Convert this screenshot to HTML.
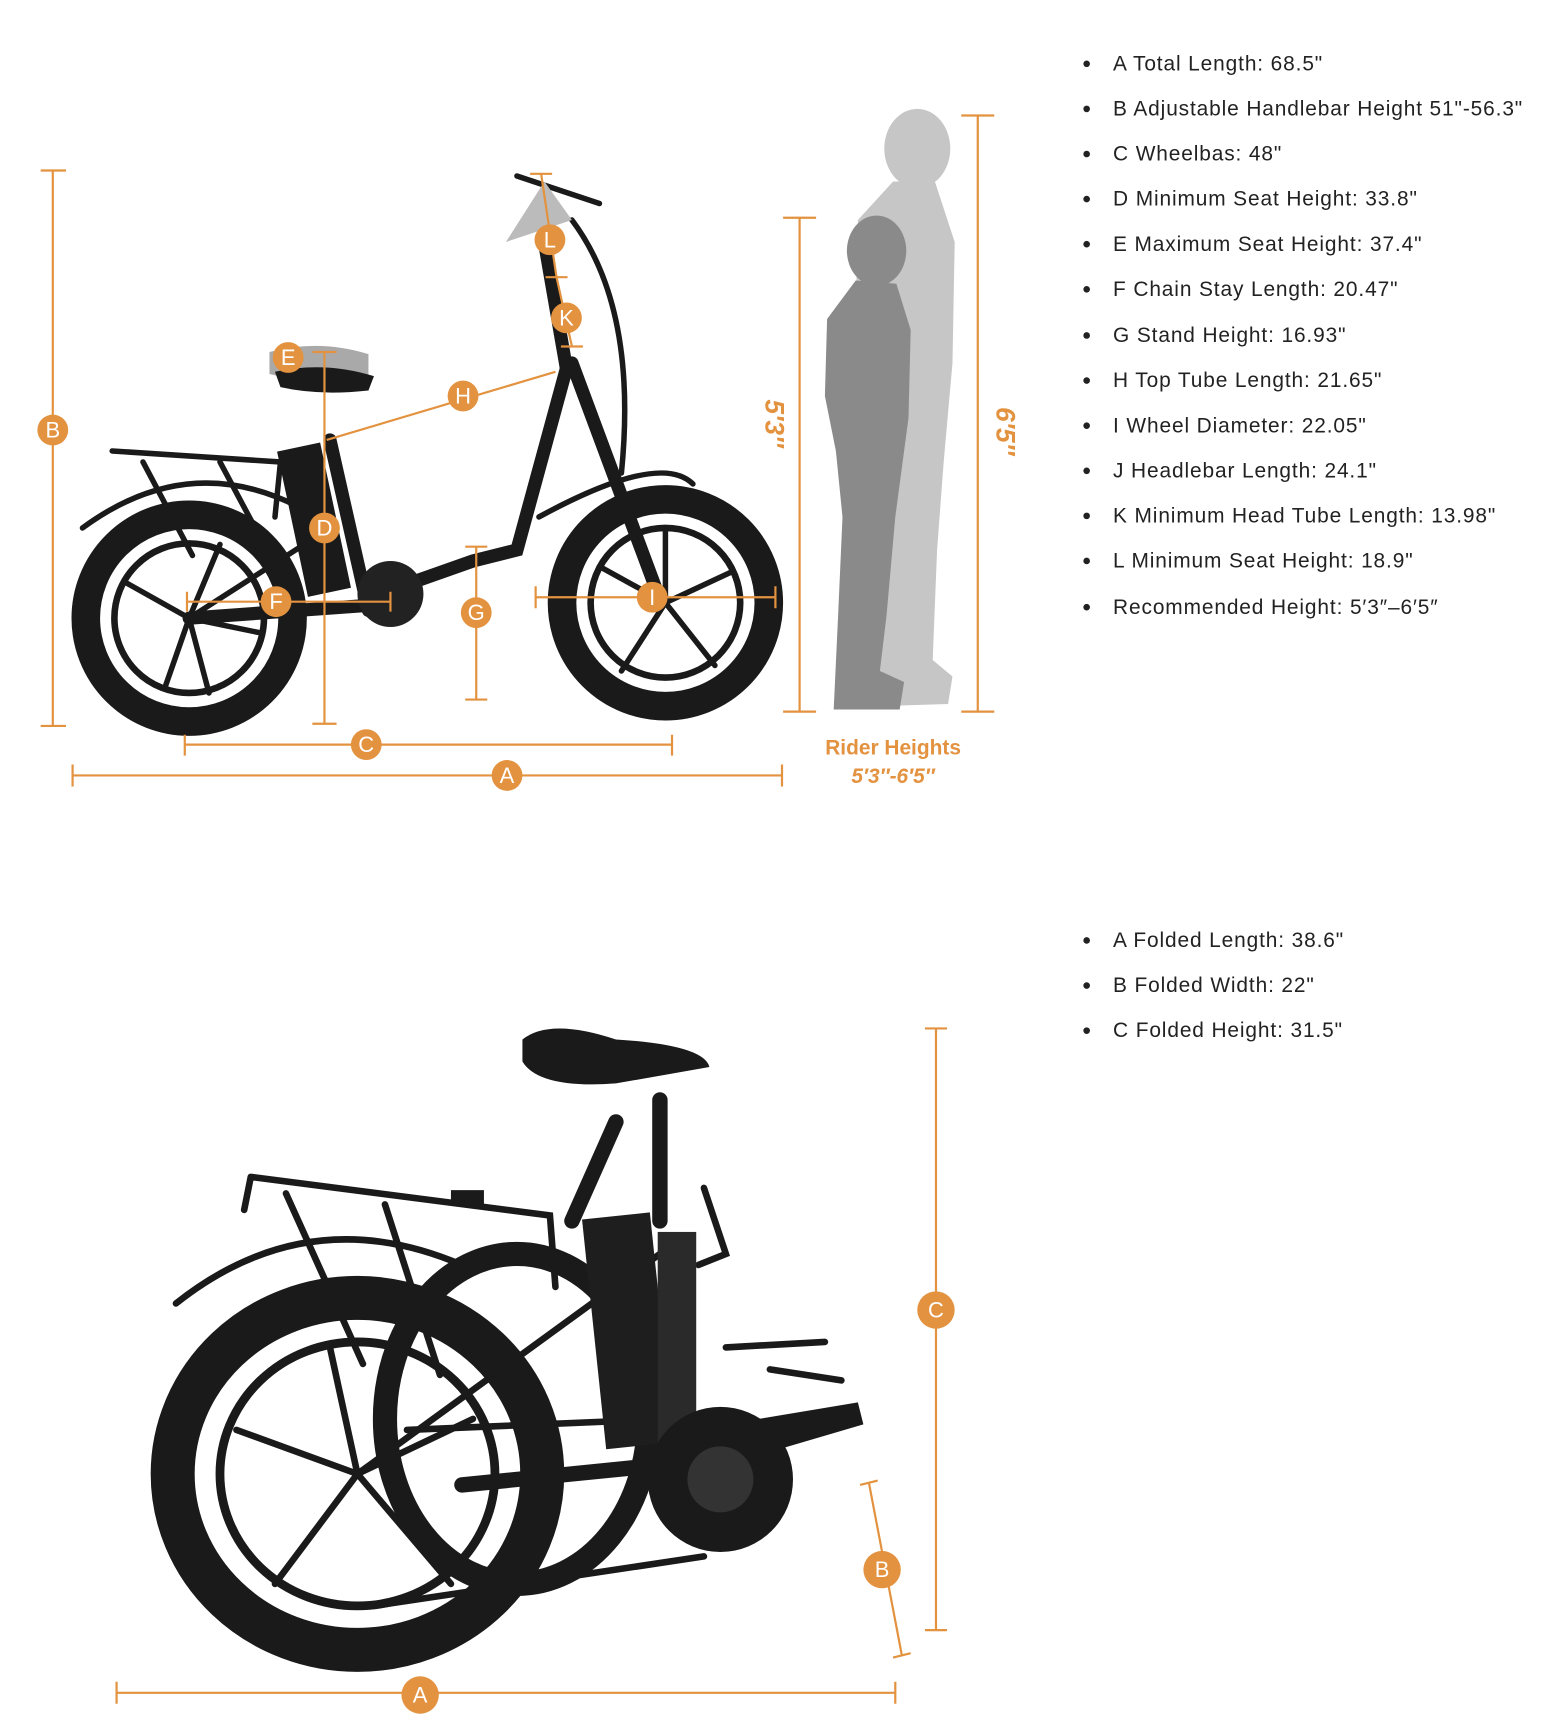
<!DOCTYPE html>
<html><head><meta charset="utf-8"><style>
html,body{margin:0;padding:0;background:#fff}
svg{display:block}
.t{font-family:"Liberation Sans",sans-serif;font-size:19px;fill:#222;letter-spacing:0.8px}
.o{stroke:#E3923F;stroke-width:2;fill:none}
.c{fill:#E3923F}
.cl{font-family:"Liberation Sans",sans-serif;font-size:20px;fill:#fff;text-anchor:middle;dominant-baseline:central}
.bk{fill:none;stroke:#1a1a1a;stroke-linecap:round}
</style></head><body>
<svg width="1564" height="1728" viewBox="0 0 1422 1571" preserveAspectRatio="none" xmlns="http://www.w3.org/2000/svg">
<g>
<g fill="#222">
<circle cx="988" cy="58" r="3"/><circle cx="988" cy="99" r="3"/><circle cx="988" cy="140" r="3"/><circle cx="988" cy="181" r="3"/><circle cx="988" cy="222" r="3"/><circle cx="988" cy="263" r="3"/><circle cx="988" cy="305" r="3"/><circle cx="988" cy="346" r="3"/><circle cx="988" cy="387" r="3"/><circle cx="988" cy="428" r="3"/><circle cx="988" cy="469" r="3"/><circle cx="988" cy="510" r="3"/><circle cx="988" cy="552" r="3"/>
<circle cx="988" cy="855" r="3"/><circle cx="988" cy="896" r="3"/><circle cx="988" cy="937" r="3"/>
</g>
<text class="t" x="1012" y="64">A Total Length: 68.5"</text>
<text class="t" x="1012" y="105">B Adjustable Handlebar Height 51"-56.3"</text>
<text class="t" x="1012" y="146">C Wheelbas: 48"</text>
<text class="t" x="1012" y="187">D Minimum Seat Height: 33.8"</text>
<text class="t" x="1012" y="228">E Maximum Seat Height: 37.4"</text>
<text class="t" x="1012" y="269">F Chain Stay Length: 20.47"</text>
<text class="t" x="1012" y="311">G Stand Height: 16.93"</text>
<text class="t" x="1012" y="352">H Top Tube Length: 21.65"</text>
<text class="t" x="1012" y="393">I Wheel Diameter: 22.05"</text>
<text class="t" x="1012" y="434">J Headlebar Length: 24.1"</text>
<text class="t" x="1012" y="475">K Minimum Head Tube Length: 13.98"</text>
<text class="t" x="1012" y="516">L Minimum Seat Height: 18.9"</text>
<text class="t" x="1012" y="558">Recommended Height: 5′3″–6′5″</text>
<text class="t" x="1012" y="861">A Folded Length: 38.6"</text>
<text class="t" x="1012" y="902">B Folded Width: 22"</text>
<text class="t" x="1012" y="943">C Folded Height: 31.5"</text>
</g>

<g fill="#c6c6c6">
<ellipse cx="834" cy="135" rx="30" ry="36"/>
<path d="M812 165 L850 165 L868 220 L866 330 L858 420 L852 500 L848 600 L866 615 L862 640 L800 642 L795 560 L788 470 L785 380 L778 280 L780 200 Z"/>
</g>
<g fill="#8a8a8a">
<ellipse cx="797" cy="228" rx="27" ry="32"/>
<path d="M778 255 L815 258 L828 300 L826 380 L814 470 L806 560 L800 610 L822 620 L818 645 L758 645 L762 560 L766 470 L760 410 L750 360 L752 290 Z"/>
</g>

<g>
<circle cx="172" cy="562" r="94" class="bk" stroke-width="26"/>
<circle cx="172" cy="562" r="68" class="bk" stroke-width="6"/>
<circle cx="605" cy="548" r="94" class="bk" stroke-width="26"/>
<circle cx="605" cy="548" r="68" class="bk" stroke-width="6"/>
<g class="bk" stroke-width="5">
<path d="M172 562 L200 495 M172 562 L235 575 M172 562 L150 625 M172 562 L115 530 M172 562 L190 630"/>
<path d="M605 548 L605 480 M605 548 L665 520 M605 548 L650 605 M605 548 L565 610 M605 548 L545 515"/>
</g>
<g class="bk" stroke-width="12">
<path d="M300 400 L335 555"/>
<path d="M515 335 L470 500 L430 510 L345 540"/>
<path d="M520 330 L600 545"/>
<path d="M495 220 L515 335"/>
<path d="M172 562 L340 550"/>
</g>
<g class="bk" stroke-width="5">
<path d="M102 410 L255 420 L250 470 M130 420 L175 505 M200 420 L240 495"/>
<path d="M172 562 L300 480"/>
<path d="M75 480 Q170 410 270 460"/>
<path d="M490 470 Q600 410 630 440"/>
<path d="M470 160 L545 185"/>
<path d="M520 200 Q580 280 565 430"/>
</g>
<rect x="265" y="405" width="40" height="135" fill="#1a1a1a" transform="rotate(-12 285 470)"/>
<circle cx="355" cy="540" r="30" fill="#222"/>
<path d="M245 320 Q290 308 335 322 L335 345 Q290 352 245 340 Z" fill="#a9a9a9"/>
<path d="M250 338 Q295 328 340 342 L335 355 Q290 360 255 352 Z" fill="#1a1a1a"/>
<path d="M460 220 L495 165 L520 200 Z" fill="#bbb"/>
</g>

<g class="o">
<path d="M48 155 V660 M37 155 H60 M37 660 H60"/>
<path d="M295 320 V658 M284 320 H306 M284 658 H306"/>
<path d="M297 400 L505 338"/>
<path d="M492 158 L506 252 L520 315 M482 158 H502 M496 252 H516 M510 315 H530"/>
<path d="M170 547 H355 M170 538 V556 M355 538 V556"/>
<path d="M433 497 V636 M423 497 H443 M423 636 H443"/>
<path d="M487 543 H705 M487 533 V553 M705 533 V553"/>
<path d="M168 668 V687 M168 677 H611 M611 668 V687"/>
<path d="M66 695 V715 M66 705 H711 M711 695 V715"/>
<path d="M727 198 V647 M712 198 H742 M712 647 H742"/>
<path d="M889 105 V647 M874 105 H904 M874 647 H904"/>
</g>
<g>
<circle class="c" cx="48" cy="391" r="14"/><text class="cl" x="48" y="391">B</text>
<circle class="c" cx="262" cy="325" r="14"/><text class="cl" x="262" y="325">E</text>
<circle class="c" cx="295" cy="480" r="14"/><text class="cl" x="295" y="480">D</text>
<circle class="c" cx="421" cy="360" r="14"/><text class="cl" x="421" y="360">H</text>
<circle class="c" cx="515" cy="289" r="14"/><text class="cl" x="515" y="289">K</text>
<circle class="c" cx="500" cy="218" r="14"/><text class="cl" x="500" y="218">L</text>
<circle class="c" cx="251" cy="547" r="14"/><text class="cl" x="251" y="547">F</text>
<circle class="c" cx="433" cy="557" r="14"/><text class="cl" x="433" y="557">G</text>
<circle class="c" cx="593" cy="543" r="14"/><text class="cl" x="593" y="543">I</text>
<circle class="c" cx="333" cy="677" r="14"/><text class="cl" x="333" y="677">C</text>
<circle class="c" cx="461" cy="705" r="14"/><text class="cl" x="461" y="705">A</text>
</g>
<text x="0" y="0" transform="translate(696 385) rotate(90)" text-anchor="middle" font-family="Liberation Sans,sans-serif" font-weight="bold" font-style="italic" font-size="24" fill="#E3923F">5′3″</text>
<text x="0" y="0" transform="translate(906 392) rotate(90)" text-anchor="middle" font-family="Liberation Sans,sans-serif" font-weight="bold" font-style="italic" font-size="24" fill="#E3923F">6′5″</text>
<text x="812" y="686" text-anchor="middle" font-family="Liberation Sans,sans-serif" font-weight="bold" font-size="19" fill="#E3923F">Rider Heights</text>
<text x="812" y="712" text-anchor="middle" font-family="Liberation Sans,sans-serif" font-weight="bold" font-style="italic" font-size="19" fill="#E3923F">5′3″-6′5″</text>

<g>
<ellipse cx="470" cy="1290" rx="120" ry="150" class="bk" stroke-width="22"/>
<ellipse cx="325" cy="1340" rx="168" ry="160" class="bk" stroke-width="40"/>
<ellipse cx="325" cy="1340" rx="125" ry="120" class="bk" stroke-width="8"/>
<g class="bk" stroke-width="6">
<path d="M325 1340 L300 1225 M325 1340 L430 1290 M325 1340 L410 1440 M325 1340 L250 1440 M325 1340 L215 1300"/>
<path d="M228 1070 L500 1105 L505 1170 M260 1085 L330 1240 M350 1095 L400 1250 M228 1070 L222 1100"/>
<path d="M160 1185 Q280 1090 420 1150"/>
<path d="M325 1340 L600 1140"/>
<path d="M640 1080 L660 1140 L635 1150"/>
<path d="M660 1225 L750 1220 M700 1245 L765 1255"/>
<path d="M340 1460 L640 1415"/>
<path d="M370 1300 L610 1290"/>
</g>
<g class="bk" stroke-width="14">
<path d="M520 1110 L560 1020 M600 1000 L600 1110"/>
<path d="M420 1350 L620 1330"/>
</g>
<rect x="540" y="1105" width="62" height="210" fill="#1e1e1e" transform="rotate(-6 570 1210)"/>
<rect x="598" y="1120" width="35" height="200" fill="#2a2a2a"/>
<circle cx="655" cy="1345" r="66" fill="#1a1a1a"/>
<circle cx="655" cy="1345" r="30" fill="#333"/>
<path d="M690 1290 L780 1275 L785 1295 L700 1320 Z" fill="#1a1a1a"/>
<path d="M475 945 Q500 925 560 945 Q640 950 645 970 L560 985 Q490 990 475 965 Z" fill="#1a1a1a"/>
<path d="M410 1082 L440 1082 L440 1095 L410 1095 Z" fill="#1a1a1a"/>
</g>

<g class="o">
<path d="M851 935 V1482 M841 935 H861 M841 1482 H861"/>
<path d="M790 1348 L820 1505 M782 1350 L798 1346 M812 1507 L828 1503"/>
<path d="M106 1529 V1549 M106 1539 H814 M814 1529 V1549"/>
</g>
<circle class="c" cx="851" cy="1191" r="17"/><text class="cl" x="851" y="1191" font-size="22">C</text>
<circle class="c" cx="802" cy="1427" r="17"/><text class="cl" x="802" y="1427" font-size="22">B</text>
<circle class="c" cx="382" cy="1541" r="17"/><text class="cl" x="382" y="1541" font-size="22">A</text>
</svg>
</body></html>
